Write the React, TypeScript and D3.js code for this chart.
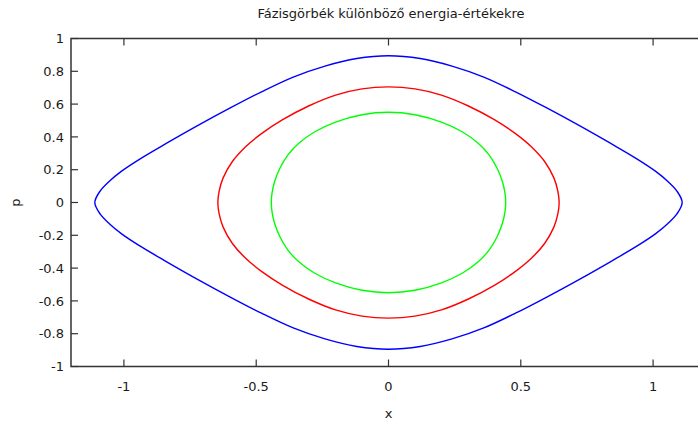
import React from "react";
import * as d3 from "d3";

const title = "Fázisgörbék különböző energia-értékekre";
const xTicks = [-1, -0.5, 0, 0.5, 1];
const yTicks = [-1, -0.8, -0.6, -0.4, -0.2, 0, 0.2, 0.4, 0.6, 0.8, 1];
const xLabel = "x";
const yLabel = "p";

// Outer curve (blue): closed loop of [x, p]
const blueCurve: [number, number][] = [
  [-1.11, 0], [-1.09, 0.07], [-1.055, 0.13], [-1.01, 0.19], [-0.94, 0.265], [-0.84, 0.36],
  [-0.72, 0.47], [-0.6, 0.575], [-0.48, 0.675], [-0.36, 0.765], [-0.24, 0.832], [-0.12, 0.878],
  [0, 0.895], [0.12, 0.878], [0.24, 0.832], [0.36, 0.765], [0.48, 0.675], [0.6, 0.575],
  [0.72, 0.47], [0.84, 0.36], [0.94, 0.265], [1.01, 0.19], [1.055, 0.13], [1.09, 0.07],
  [1.11, 0], [1.09, -0.07], [1.055, -0.13], [1.01, -0.19], [0.94, -0.265], [0.84, -0.36],
  [0.72, -0.47], [0.6, -0.575], [0.48, -0.675], [0.36, -0.765], [0.24, -0.832], [0.12, -0.878],
  [0, -0.895], [-0.12, -0.878], [-0.24, -0.832], [-0.36, -0.765], [-0.48, -0.675], [-0.6, -0.575],
  [-0.72, -0.47], [-0.84, -0.36], [-0.94, -0.265], [-1.01, -0.19], [-1.055, -0.13], [-1.09, -0.07],
];

// Middle curve (red)
const redCurve: [number, number][] = [
  [-0.645, 0], [-0.64, 0.07], [-0.625, 0.15], [-0.59, 0.25], [-0.54, 0.34], [-0.48, 0.42],
  [-0.4, 0.505], [-0.3, 0.59], [-0.2, 0.655], [-0.1, 0.693], [0, 0.705], [0.1, 0.693],
  [0.2, 0.655], [0.3, 0.59], [0.4, 0.505], [0.48, 0.42], [0.54, 0.34], [0.59, 0.25],
  [0.625, 0.15], [0.64, 0.07], [0.645, 0], [0.64, -0.07], [0.625, -0.15], [0.59, -0.25],
  [0.54, -0.34], [0.48, -0.42], [0.4, -0.505], [0.3, -0.59], [0.2, -0.655], [0.1, -0.693],
  [0, -0.705], [-0.1, -0.693], [-0.2, -0.655], [-0.3, -0.59], [-0.4, -0.505], [-0.48, -0.42],
  [-0.54, -0.34], [-0.59, -0.25], [-0.625, -0.15], [-0.64, -0.07],
];

// Inner curve (green)
const greenCurve: [number, number][] = [
  [-0.443, 0], [-0.44, 0.06], [-0.43, 0.13], [-0.41, 0.21], [-0.38, 0.29], [-0.34, 0.36],
  [-0.28, 0.43], [-0.2, 0.49], [-0.1, 0.535], [0, 0.55], [0.1, 0.535], [0.2, 0.49],
  [0.28, 0.43], [0.34, 0.36], [0.38, 0.29], [0.41, 0.21], [0.43, 0.13], [0.44, 0.06],
  [0.443, 0], [0.44, -0.06], [0.43, -0.13], [0.41, -0.21], [0.38, -0.29], [0.34, -0.36],
  [0.28, -0.43], [0.2, -0.49], [0.1, -0.535], [0, -0.55], [-0.1, -0.535], [-0.2, -0.49],
  [-0.28, -0.43], [-0.34, -0.36], [-0.38, -0.29], [-0.41, -0.21], [-0.43, -0.13], [-0.44, -0.06],
];

const curves = [
  { data: blueCurve, color: "#0000ff" },
  { data: redCurve, color: "#ff0000" },
  { data: greenCurve, color: "#00ff00" },
];

const W = 698;
const H = 424;
const left = 71;
const right = 706;
const top = 38.5;
const bottom = 366.5;
const font = "'DejaVu Sans', Verdana, sans-serif";
const axisColor = "#333333";
const textColor = "#1a1a1a";

export default function App() {
  const x = d3.scaleLinear().domain([-1.2, 1.2]).range([left, right]);
  const y = d3.scaleLinear().domain([-1, 1]).range([bottom, top]);
  const line = d3
    .line<[number, number]>()
    .x((d) => x(d[0]))
    .y((d) => y(d[1]))
    .curve(d3.curveCatmullRomClosed.alpha(0.5));
  const tickLen = 7;
  const fmt = (v: number) => (v === 0 ? "0" : String(v));

  return (
    <svg
      width={W}
      height={H}
      style={{ position: "absolute", left: 0, top: 0, display: "block", background: "#fff" }}
    >
      <rect x={0} y={0} width={W} height={H} fill="#ffffff" />
      <text x={391} y={18} textAnchor="middle" fontFamily={font} fontSize={13} fill={textColor}>
        {title}
      </text>
      <g>
        {curves.map((c, i) => (
          <path key={i} d={line(c.data) || ""} fill="none" stroke={c.color} strokeWidth={1.4} />
        ))}
      </g>
      {xTicks.map((t) => (
        <g key={"x" + t}>
          <line x1={x(t)} x2={x(t)} y1={bottom} y2={bottom - tickLen} stroke={axisColor} strokeWidth={1.2} />
          <line x1={x(t)} x2={x(t)} y1={top} y2={top + tickLen} stroke={axisColor} strokeWidth={1.2} />
          <text x={x(t)} y={391} textAnchor="middle" fontFamily={font} fontSize={13} fill={textColor}>
            {fmt(t)}
          </text>
        </g>
      ))}
      {yTicks.map((t) => (
        <g key={"y" + t}>
          <line x1={left} x2={left + tickLen} y1={y(t)} y2={y(t)} stroke={axisColor} strokeWidth={1.2} />
          <text
            x={64}
            y={y(t)}
            dy="0.36em"
            textAnchor="end"
            fontFamily={font}
            fontSize={13}
            fill={textColor}
          >
            {fmt(t)}
          </text>
        </g>
      ))}
      <path
        d={`M${right},${top}H${left}V${bottom}H${right}`}
        fill="none"
        stroke={axisColor}
        strokeWidth={1.5}
      />
      <text x={x(0)} y={418} textAnchor="middle" fontFamily={font} fontSize={13} fill={textColor}>
        {xLabel}
      </text>
      <text
        transform={`translate(20,${y(0)}) rotate(-90)`}
        textAnchor="middle"
        fontFamily={font}
        fontSize={13}
        fill={textColor}
      >
        {yLabel}
      </text>
    </svg>
  );
}
